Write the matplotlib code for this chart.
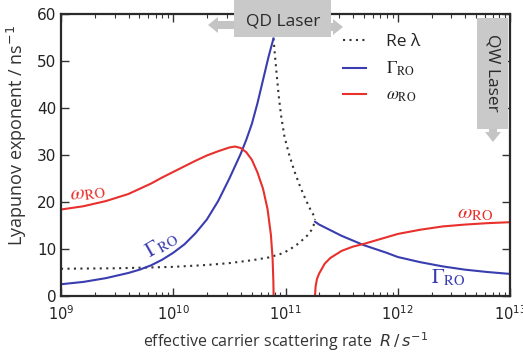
import numpy as np
import matplotlib
matplotlib.use("Agg")
import matplotlib.pyplot as plt
from matplotlib.font_manager import FontProperties
from matplotlib.patches import Rectangle, FancyArrow
from matplotlib.transforms import IdentityTransform

# ---------------- data ----------------
# omega_RO, low-R branch (log10 R, value)
omega_left_logR = [9.0, 9.2, 9.4, 9.6, 9.8, 9.9, 10.0, 10.1, 10.2, 10.3, 10.4, 10.5,
                   10.55, 10.6, 10.65, 10.7, 10.75, 10.8, 10.84, 10.87, 10.885, 10.892, 10.894]
omega_left_val = [18.4, 19.1, 20.2, 21.7, 23.9, 25.2, 26.4, 27.6, 28.8, 29.9, 30.8, 31.6,
                  31.8, 31.5, 30.6, 29.0, 26.3, 22.8, 18.5, 13.0, 8.0, 3.0, 0.0]

# Gamma_RO, low-R branch
gamma_left_logR = [9.0, 9.2, 9.4, 9.6, 9.7, 9.8, 9.9, 10.0, 10.1, 10.2, 10.3, 10.4, 10.5,
                   10.55, 10.6, 10.65, 10.7, 10.75, 10.8, 10.85, 10.893]
gamma_left_val = [2.5, 3.0, 3.8, 4.9, 5.6, 6.5, 7.7, 9.2, 11.0, 13.4, 16.3, 20.2, 25.0,
                  27.6, 30.2, 33.2, 36.6, 41.0, 46.0, 51.0, 54.8]

# Re lambda, lower branch
re_low_logR = [9.0, 9.5, 10.0, 10.3, 10.5, 10.7, 10.85, 10.95, 11.0, 11.05, 11.1, 11.15,
               11.2, 11.23, 11.25, 11.263]
re_low_val = [5.8, 5.9, 6.2, 6.6, 7.0, 7.6, 8.2, 8.9, 9.4, 10.1, 10.9, 11.9,
              13.0, 14.0, 15.0, 16.4]

# Re lambda, upper branch
re_up_logR = [10.893, 10.905, 10.92, 10.94, 10.96, 10.99, 11.03, 11.08, 11.13, 11.18,
              11.22, 11.25, 11.263]
re_up_val = [54.8, 51.5, 47.5, 42.5, 38.5, 34.0, 30.3, 26.5, 23.3, 20.5, 18.5, 17.2, 16.4]

# Gamma_RO, high-R branch
gamma_right_logR = [11.263, 11.3, 11.4, 11.5, 11.6, 11.7, 11.8, 11.9, 12.0, 12.2, 12.4,
                    12.6, 12.8, 13.0]
gamma_right_val = [15.8, 15.2, 14.0, 12.8, 11.8, 10.8, 10.0, 9.2, 8.3, 7.2, 6.3,
                   5.6, 5.1, 4.7]

# omega_RO, high-R branch
omega_right_logR = [11.263, 11.268, 11.28, 11.3, 11.35, 11.4, 11.5, 11.6, 11.7, 11.8,
                    11.9, 12.0, 12.2, 12.4, 12.6, 12.8, 13.0]
omega_right_val = [0.0, 2.0, 3.6, 4.8, 6.9, 8.1, 9.6, 10.5, 11.1, 11.8,
                   12.5, 13.2, 14.1, 14.8, 15.2, 15.5, 15.7]

y_ticks = [0, 10, 20, 30, 40, 50, 60]

RED = '#e8302c'
BLUE = '#3a3db0'
DOT = '#333333'

def R(lst):
    return [10.0 ** v for v in lst]

fig = plt.figure(figsize=(5.23, 3.54), dpi=100)
ax = fig.add_axes([61 / 523, (354 - 296) / 354, 449 / 523, 282 / 354])

dots = (1, 2.1)
ax.plot(R(re_low_logR), re_low_val, ls=(0, dots), color=DOT, lw=1.5, label='Re λ')
ax.plot(R(re_up_logR), re_up_val, ls=(0, dots), color=DOT, lw=1.5)
ax.plot(R(gamma_left_logR), gamma_left_val, color=BLUE, lw=1.5, label=r'$\Gamma_{\mathrm{RO}}$')
ax.plot(R(gamma_right_logR), gamma_right_val, color=BLUE, lw=1.5)
ax.plot(R(omega_left_logR), omega_left_val, color=RED, lw=1.5, label=r'$\omega_{\mathrm{RO}}$')
ax.plot(R(omega_right_logR), omega_right_val, color=RED, lw=1.5)

ax.set_xscale('log')
ax.set_xlim(1e9, 1e13)
ax.set_ylim(0, 60)
ax.set_yticks(y_ticks)
ax.set_xticks([1e9, 1e10, 1e11, 1e12, 1e13])

for s in ax.spines.values():
    s.set_linewidth(1.6)
    s.set_color('#2a2a2a')
ax.tick_params(which='both', direction='in', top=True, right=True, color='#333333')
ax.tick_params(which='major', length=6, width=1.0, labelsize=11, colors='#333333',
               labelcolor='#222222')
ax.tick_params(which='minor', length=3, width=0.8)
ax.tick_params(axis='x', which='major', labelsize=10.5, pad=6)

ax.set_ylabel(r'Lyapunov exponent / ns$^{-1}$', fontsize=13, family='Open Sans',
              color='#333333')
ax.yaxis.set_label_coords(-0.071, 0.571)
ax.set_xlabel(r'effective carrier scattering rate  $R\,/\,s^{-1}$', fontsize=11.5,
              family='Open Sans', color='#333333', labelpad=5)

# curve labels
lab_kw = dict(fontsize=15, math_fontfamily='stix', ha='center', va='center')
ax.text(10 ** 9.24, 21.9, r'$\omega_{\mathrm{RO}}$', color=RED, rotation=8, **lab_kw)
ax.text(10 ** 9.90, 10.9, r'$\Gamma_{\mathrm{RO}}$', color=BLUE, rotation=30, **lab_kw)
ax.text(10 ** 12.69, 17.7, r'$\omega_{\mathrm{RO}}$', color=RED, **lab_kw)
ax.text(10 ** 12.45, 3.8, r'$\Gamma_{\mathrm{RO}}$', color=BLUE, **lab_kw)

# legend
prop = FontProperties(family='Open Sans', size=12.5, math_fontfamily='stix')
leg = ax.legend(loc='upper left', bbox_to_anchor=((343 - 61) / 449, (296 - 34) / 282),
                frameon=False, prop=prop, borderpad=0, borderaxespad=0,
                handlelength=1.35, handletextpad=1.1, labelspacing=0.55)
for t in leg.get_texts():
    t.set_color('#222222')

# annotation boxes (figure pixels, y measured from top)
H = 354
GRAY = '#c9c9c9'
AGRAY = '#c4c4c4'
ident = IdentityTransform()

def add(p):
    p.set_transform(ident)
    p.set_zorder(5)
    fig.patches.append(p)

# QD Laser box
add(Rectangle((234, H - 37), 97, 40, facecolor=GRAY, edgecolor='none'))
add(FancyArrow(234, H - 25, -16, 0, width=8, head_width=16, head_length=10,
               length_includes_head=False, facecolor=AGRAY, edgecolor='none'))
add(FancyArrow(331, H - 27, 2, 0, width=8, head_width=16, head_length=10,
               length_includes_head=False, facecolor=AGRAY, edgecolor='none'))
fig.text(283 / 523, (H - 21) / H, 'QD Laser', fontsize=12.5, family='Open Sans',
         color='#2a2a2a', ha='center', va='center', zorder=6)

# QW Laser box
add(Rectangle((477, H - 129), 31, 111, facecolor=GRAY, edgecolor='none'))
add(FancyArrow(493, H - 129, 0, -3, width=8, head_width=16, head_length=10,
               length_includes_head=False, facecolor=AGRAY, edgecolor='none'))
fig.text(493 / 523, (H - 73) / H, 'QW Laser', fontsize=12.5, family='Open Sans',
         color='#2a2a2a', ha='center', va='center', rotation=-90, zorder=6)

fig.savefig('out.png', dpi=100)
